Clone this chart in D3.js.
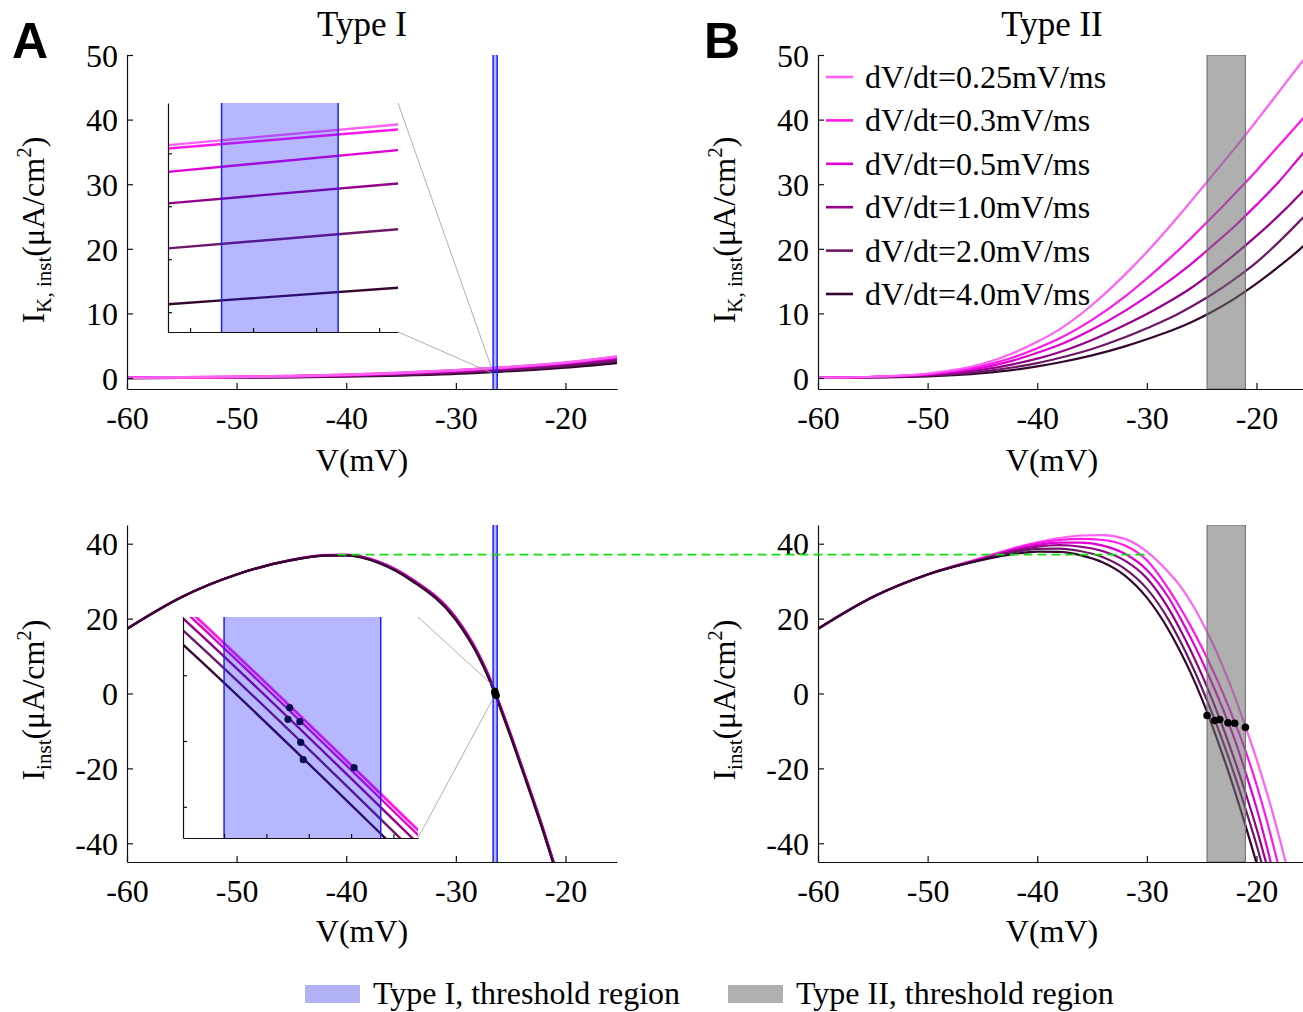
<!DOCTYPE html>
<html>
<head>
<meta charset="utf-8">
<script src="https://cdn.jsdelivr.net/npm/d3@7"></script>
<style>
body { margin: 0; background: #fff; }
</style>
</head>
<body>
<svg id="fig" width="1303" height="1012"></svg>
<script>
// ---------- data ----------
var rates = ["0.25", "0.3", "0.5", "1.0", "2.0", "4.0"];
var rateColors = ["#ff62f2", "#ff18ea", "#de00d4", "#940088", "#6c1866", "#34082e"];

var xTicks = [-60, -50, -40, -30, -20];
var yTicksK = [0, 10, 20, 30, 40, 50];
var yTicksInst = [-40, -20, 0, 20, 40];

// Type I, I_K,inst
var vKTypeI = [-60, -55, -50, -45, -40, -35, -30, -26.77, -26.04, -20, -15];
var iKTypeI = [
    [0.05, 0.10, 0.18, 0.30, 0.50, 0.80, 1.20, 1.531, 1.609, 2.40, 3.40],
    [0.05, 0.10, 0.18, 0.30, 0.49, 0.79, 1.19, 1.518, 1.590, 2.37, 3.35],
    [0.04, 0.09, 0.16, 0.27, 0.45, 0.73, 1.11, 1.430, 1.512, 2.28, 3.20],
    [0.03, 0.07, 0.13, 0.23, 0.40, 0.65, 1.00, 1.311, 1.386, 2.12, 3.00],
    [0.02, 0.05, 0.10, 0.18, 0.32, 0.54, 0.85, 1.141, 1.213, 1.92, 2.75],
    [0.01, 0.03, 0.07, 0.13, 0.24, 0.41, 0.66, 0.930, 0.992, 1.65, 2.40]
];

// Type II, I_K,inst
var vKTypeII = [-60, -55, -50, -45, -42, -40, -38, -35, -32, -30, -28, -26, -24, -22, -20, -18, -16, -15];
var iKTypeII = [
    [0.05, 0.20, 0.70, 2.2, 4.0, 5.6, 7.5, 11.3, 16.0, 19.5, 23.3, 27.3, 31.4, 35.5, 39.8, 44.2, 48.6, 50.8],
    [0.05, 0.20, 0.60, 1.9, 3.3, 4.6, 6.1, 9.0, 12.6, 15.4, 18.4, 21.6, 25.0, 28.5, 32.1, 35.9, 39.7, 41.7],
    [0.04, 0.18, 0.55, 1.6, 2.8, 3.9, 5.1, 7.5, 10.4, 12.6, 15.0, 17.6, 20.5, 23.5, 26.8, 30.3, 34.3, 36.3],
    [0.03, 0.15, 0.45, 1.3, 2.2, 3.0, 4.0, 5.9, 8.2, 9.9, 11.8, 13.9, 16.4, 19.1, 22.0, 25.1, 28.5, 30.3],
    [0.02, 0.12, 0.35, 1.0, 1.7, 2.3, 3.1, 4.5, 6.3, 7.7, 9.2, 11.0, 13.0, 15.3, 17.9, 21.0, 24.4, 26.2],
    [0.01, 0.08, 0.25, 0.75, 1.3, 1.8, 2.4, 3.5, 4.9, 6.0, 7.2, 8.6, 10.3, 12.3, 14.6, 17.2, 20.0, 21.6]
];

// Type I, I_inst
var vInstTypeI = [-60, -55, -50, -45, -42, -40, -37, -34, -30, -28, -27, -26.697, -26.142, -25, -24, -22, -21, -20];
var iInstTypeI = [
    [17.3, 25.8, 31.8, 35.7, 37.0, 37.1, 35.2, 30.6, 20.3, 11.0, 4.8, 2.597, -1.683, -10.8, -19.2, -36.4, -45.7, -55.2],
    [17.3, 25.8, 31.8, 35.7, 36.95, 37.05, 35.15, 30.55, 20.3, 11.0, 4.8, 2.584, -1.696, -10.8, -19.2, -36.4, -45.7, -55.2],
    [17.3, 25.8, 31.8, 35.7, 36.9, 37.0, 35.1, 30.45, 20.2, 10.9, 4.7, 2.494, -1.786, -10.9, -19.3, -36.5, -45.8, -55.3],
    [17.3, 25.8, 31.8, 35.6, 36.85, 36.95, 35.0, 30.35, 20.0, 10.7, 4.5, 2.331, -1.949, -11.1, -19.5, -36.7, -46.0, -55.5],
    [17.3, 25.8, 31.8, 35.6, 36.8, 36.9, 34.9, 30.2, 19.8, 10.45, 4.25, 2.103, -2.177, -11.35, -19.75, -36.95, -46.25, -55.75],
    [17.3, 25.8, 31.8, 35.6, 36.8, 36.85, 34.8, 30.05, 19.6, 10.2, 4.0, 1.829, -2.451, -11.6, -20.0, -37.2, -46.5, -56.0]
];

// Type II, I_inst (null = beyond the plotted range)
var vInstTypeII = [-60, -55, -50, -45, -42, -40, -38, -36, -34, -32, -30, -28, -27, -26, -25, -24, -23, -22, -21, -20, -19, -18, -17];
var iInstTypeII = [
    [17.3, 25.8, 31.8, 36.3, 39.0, 40.4, 41.5, 42.2, 42.3, 41.3, 37.9, 32.3, 28.9, 24.5, 19.3, 13.4, 6.7, -0.7, -8.9, -17.5, -27.0, -37.5, -49.0],
    [17.3, 25.8, 31.8, 36.2, 38.8, 40.2, 41.0, 41.3, 41.0, 39.5, 35.6, 27.8, 23.1, 18.0, 12.4, 6.3, -0.3, -7.5, -15.3, -24.3, -34.5, -46.0, null],
    [17.3, 25.8, 31.8, 36.0, 38.5, 39.7, 40.3, 40.3, 39.5, 37.3, 33.0, 25.5, 20.4, 14.9, 8.9, 2.4, -4.6, -12.2, -21.0, -30.5, -41.5, -54.0, null],
    [17.3, 25.8, 31.8, 35.9, 38.2, 39.2, 39.6, 39.2, 38.0, 35.5, 30.8, 22.6, 17.3, 11.5, 5.1, -1.9, -9.5, -17.7, -26.5, -36.0, -46.5, null, null],
    [17.3, 25.8, 31.8, 35.8, 37.8, 38.6, 38.7, 38.0, 36.4, 33.3, 28.0, 19.6, 14.2, 8.2, 1.6, -5.6, -13.4, -21.8, -30.8, -40.4, -51.0, null, null],
    [17.3, 25.8, 31.8, 35.7, 37.3, 37.9, 37.8, 36.9, 35.0, 31.5, 25.6, 16.9, 11.5, 5.5, -1.3, -8.9, -17.1, -25.9, -35.3, -45.3, -56.0, null, null]
];

// threshold points
var dotsTypeI_V = [-26.293, -26.445, -26.421, -26.449, -26.419, -26.413];
var dotsTypeI_I = [-0.507, 0.633, 0.367, 0.412, -0.025, -0.355];
var dotsTypeII_V = [-21.01, -21.99, -22.60, -23.35, -23.81, -24.51];
var dotsTypeII_I = [-9.02, -7.95, -7.84, -6.96, -7.22, -5.89];

// threshold regions
var thresholdTypeI = [-26.6, -26.23];
var thresholdTypeII = [-24.51, -21.01];

// green reference line (Type I peak) from / to
var peakLineV = [-40.8, -29.7];

var legendLabels = ["Type I, threshold region", "Type II, threshold region"];

// ---------- drawing ----------
var svg = d3.select("#fig");
var serif = '"Liberation Serif", "Times New Roman", Times, serif';
var blue = "#1f1fff";
var clipN = 0;

function makePanel(left, top, right, bottom, xDom, yDom) {
    var p = {left: left, top: top, right: right, bottom: bottom};
    p.x = d3.scaleLinear().domain(xDom).range([left, right]);
    p.y = d3.scaleLinear().domain(yDom).range([bottom, top]);
    var id = "clip" + (clipN++);
    svg.append("clipPath").attr("id", id).append("rect")
        .attr("x", left).attr("y", top)
        .attr("width", right - left).attr("height", bottom - top);
    p.g = svg.append("g");
    p.plot = p.g.append("g").attr("clip-path", "url(#" + id + ")");
    return p;
}

function drawCurves(p, vs, series, order, width) {
    var line = d3.line()
        .defined(function(d) { return d[1] !== null; })
        .x(function(d) { return p.x(d[0]); })
        .y(function(d) { return p.y(d[1]); })
        .curve(d3.curveMonotoneX);
    order.forEach(function(k) {
        var pts = vs.map(function(v, j) { return [v, series[k][j]]; });
        p.plot.append("path")
            .attr("d", line(pts))
            .attr("fill", "none")
            .attr("stroke", rateColors[k])
            .attr("stroke-width", width);
    });
}

function drawRegion(p, range, fill, opacity, edge, edgeWidth, fullBox) {
    var x0 = p.x(range[0]), x1 = p.x(range[1]);
    p.plot.append("rect")
        .attr("x", x0).attr("y", p.top)
        .attr("width", x1 - x0).attr("height", p.bottom - p.top)
        .attr("fill", fill).attr("fill-opacity", opacity)
        .attr("stroke", fullBox ? edge : "none").attr("stroke-width", edgeWidth);
    if (!fullBox) {
        [x0, x1].forEach(function(xx) {
            p.plot.append("line")
                .attr("x1", xx).attr("x2", xx).attr("y1", p.top).attr("y2", p.bottom)
                .attr("stroke", edge).attr("stroke-width", edgeWidth);
        });
    }
}

function drawDots(p, vs, is, r) {
    vs.forEach(function(v, k) {
        p.plot.append("circle")
            .attr("cx", p.x(v)).attr("cy", p.y(is[k])).attr("r", r)
            .attr("fill", "#000");
    });
}

// plain hyphen minus in tick labels, like the original
function tickText(d) { return String(d); }

function drawAxes(p, xt, yt, tick, labels) {
    var ax = d3.axisBottom(p.x).tickValues(xt).tickFormat(tickText)
        .tickSizeInner(-tick).tickSizeOuter(0).tickPadding(0);
    var ay = d3.axisLeft(p.y).tickValues(yt).tickFormat(tickText)
        .tickSizeInner(-tick).tickSizeOuter(0).tickPadding(0);
    var gx = p.g.append("g").attr("transform", "translate(0," + p.bottom + ")").call(ax);
    var gy = p.g.append("g").attr("transform", "translate(" + p.left + ",0)").call(ay);
    [gx, gy].forEach(function(g) {
        g.selectAll("path, line").attr("stroke", "#111").attr("stroke-width", 1.2);
        g.attr("font-family", serif).attr("font-size", 32);
        if (!labels) g.selectAll("text").remove();
    });
    if (labels) {
        gx.selectAll("text").attr("y", 40).attr("dy", 0).attr("fill", "#000");
        gy.selectAll("text").attr("x", -9).attr("dy", "0.35em").attr("fill", "#000");
    }
}

function yLabel(x, y, sub) {
    var t = svg.append("text")
        .attr("transform", "translate(" + x + "," + y + ") rotate(-90)")
        .attr("text-anchor", "middle")
        .attr("font-family", serif).attr("font-size", 32);
    t.append("tspan").text("I");
    t.append("tspan").attr("font-size", 21).attr("dy", 7).text(sub);
    t.append("tspan").attr("dy", -7).text("(\u03bcA/cm");
    t.append("tspan").attr("font-size", 21).attr("dy", -13).text("2");
    t.append("tspan").attr("dy", 13).text(")");
}

function xLabel(x, y) {
    svg.append("text").attr("x", x).attr("y", y).attr("text-anchor", "middle")
        .attr("font-family", serif).attr("font-size", 32).text("V(mV)");
}

function inset(left, top, right, bottom, xDom, yDom) {
    svg.append("rect").attr("x", left).attr("y", top)
        .attr("width", right - left).attr("height", bottom - top).attr("fill", "#fff");
    return makePanel(left, top, right, bottom, xDom, yDom);
}

function connector(x1, y1, x2, y2) {
    svg.append("line").attr("x1", x1).attr("y1", y1).attr("x2", x2).attr("y2", y2)
        .attr("stroke", "#9a9a9a").attr("stroke-width", 0.8);
}

var lightFirst = [0, 1, 2, 3, 4, 5];
var darkFirst = [5, 4, 3, 2, 1, 0];

// ----- A top -----
var aTop = makePanel(127, 55, 617, 389, [-60, -15.3], [-1.7, 50]);
drawCurves(aTop, vKTypeI, iKTypeI, darkFirst, 2.6);
drawRegion(aTop, thresholdTypeI, blue, 0.32, blue, 1.5, false);
drawAxes(aTop, xTicks, yTicksK, 6, true);

var aTopIn = inset(168, 103, 398, 332, [-26.77, -26.04], [0.825, 1.69]);
drawCurves(aTopIn, vKTypeI, iKTypeI, darkFirst, 2.4);
drawRegion(aTopIn, thresholdTypeI, blue, 0.32, blue, 1.5, false);
drawAxes(aTopIn, [-26.7, -26.5, -26.3, -26.1], [0.9, 1.1, 1.3, 1.5], 4, false);
connector(aTopIn.right, aTopIn.top, aTop.x(-26.77), aTop.y(1.69));
connector(aTopIn.right, aTopIn.bottom, aTop.x(-26.77), aTop.y(0.825));

// ----- B top -----
var bTop = makePanel(818, 55, 1308, 389, [-60, -15.3], [-1.7, 50]);
drawCurves(bTop, vKTypeII, iKTypeII, darkFirst, 2.2);
drawRegion(bTop, thresholdTypeII, "#6e6e6e", 0.55, "#777", 1.2, true);
drawAxes(bTop, xTicks, yTicksK, 6, true);

// legend (B top)
var lg = svg.append("g");
rates.forEach(function(r, k) {
    var yy = 77 + k * 43.4;
    lg.append("line").attr("x1", 826).attr("x2", 853).attr("y1", yy).attr("y2", yy)
        .attr("stroke", rateColors[k]).attr("stroke-width", 2.6);
    lg.append("text").attr("x", 865).attr("y", yy + 11)
        .attr("font-family", serif).attr("font-size", 32)
        .text("dV/dt=" + r + "mV/ms");
});

// ----- A bottom -----
var aBot = makePanel(127, 525, 617, 862, [-60, -15.3], [-45, 45]);
drawCurves(aBot, vInstTypeI, iInstTypeI, lightFirst, 2.2);
drawRegion(aBot, thresholdTypeI, blue, 0.32, blue, 1.5, false);
drawDots(aBot, dotsTypeI_V, dotsTypeI_I, 3.5);
drawAxes(aBot, xTicks, yTicksInst, 6, true);

// ----- B bottom -----
var bBot = makePanel(818, 525, 1308, 862, [-60, -15.3], [-45, 45]);
drawCurves(bBot, vInstTypeII, iInstTypeII, lightFirst, 2.2);
drawRegion(bBot, thresholdTypeII, "#6e6e6e", 0.55, "#777", 1.2, true);
drawDots(bBot, dotsTypeII_V, dotsTypeII_I, 3.8);
drawAxes(bBot, xTicks, yTicksInst, 6, true);

// green dashed line at Type I peak
var peakTypeI = d3.max(iInstTypeI, function(s) { return d3.max(s); });
svg.append("line")
    .attr("x1", aBot.x(peakLineV[0])).attr("x2", bBot.x(peakLineV[1]))
    .attr("y1", aBot.y(peakTypeI)).attr("y2", aBot.y(peakTypeI))
    .attr("stroke", "#11dd11").attr("stroke-width", 1.6)
    .attr("stroke-dasharray", "9,5");

// inset A bottom
var aBotIn = inset(183, 617, 418, 838, [-26.697, -26.142], [-1.843, 2.356]);
drawCurves(aBotIn, vInstTypeI, iInstTypeI, lightFirst, 2.4);
drawDots(aBotIn, dotsTypeI_V, dotsTypeI_I, 3.6);
drawRegion(aBotIn, thresholdTypeI, blue, 0.32, blue, 1.5, false);
drawAxes(aBotIn, [-26.6, -26.5, -26.4, -26.3, -26.2], [-1.25, 0, 1.25], 4, false);
connector(aBotIn.right, aBotIn.top, aBot.x(-26.697), aBot.y(2.356));
connector(aBotIn.right, aBotIn.bottom, aBot.x(-26.697), aBot.y(-1.843));

// ----- labels -----
yLabel(44, 230, "K, inst");
yLabel(735, 230, "K, inst");
yLabel(44, 700, "inst");
yLabel(735, 700, "inst");
xLabel(362, 471);
xLabel(1052, 471);
xLabel(362, 942);
xLabel(1052, 942);

svg.append("text").attr("x", 362).attr("y", 36).attr("text-anchor", "middle")
    .attr("font-family", serif).attr("font-size", 35).text("Type I");
svg.append("text").attr("x", 1052).attr("y", 36).attr("text-anchor", "middle")
    .attr("font-family", serif).attr("font-size", 35).text("Type II");
svg.append("text").attr("x", 12).attr("y", 58)
    .attr("font-family", '"Liberation Sans", Arial, sans-serif').attr("font-weight", "bold")
    .attr("font-size", 50).text("A");
svg.append("text").attr("x", 704).attr("y", 58)
    .attr("font-family", '"Liberation Sans", Arial, sans-serif').attr("font-weight", "bold")
    .attr("font-size", 50).text("B");

// ----- bottom legend -----
var patches = [{x: 305, fill: "#b2b2f7"}, {x: 728, fill: "#b0b0b0"}];
patches.forEach(function(pt, k) {
    svg.append("rect").attr("x", pt.x).attr("y", 985).attr("width", 55).attr("height", 18)
        .attr("fill", pt.fill);
    svg.append("text").attr("x", pt.x + 68).attr("y", 1004)
        .attr("font-family", serif).attr("font-size", 32).text(legendLabels[k]);
});
</script>
</body>
</html>
